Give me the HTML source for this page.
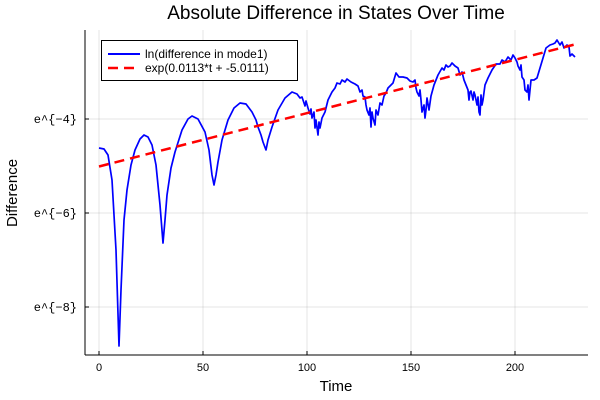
<!DOCTYPE html>
<html><head><style>body{margin:0;background:#fff}svg{display:block;font-family:"Liberation Sans",sans-serif}</style></head><body>
<svg width="600" height="400" xmlns="http://www.w3.org/2000/svg">
<rect width="600" height="400" fill="#fff"/>
<g stroke="#000" stroke-opacity="0.1" stroke-width="1">
<line x1="99" y1="30" x2="99" y2="355"/><line x1="203" y1="30" x2="203" y2="355"/><line x1="307" y1="30" x2="307" y2="355"/><line x1="411" y1="30" x2="411" y2="355"/><line x1="515" y1="30" x2="515" y2="355"/>
<line x1="85" y1="119" x2="588" y2="119"/><line x1="85" y1="213" x2="588" y2="213"/><line x1="85" y1="307" x2="588" y2="307"/>
</g>
<g stroke="#000" stroke-width="1">
<line x1="85" y1="30" x2="85" y2="355"/><line x1="85" y1="355" x2="588" y2="355"/>
<line x1="99" y1="355" x2="99" y2="351"/><line x1="203" y1="355" x2="203" y2="351"/><line x1="307" y1="355" x2="307" y2="351"/><line x1="411" y1="355" x2="411" y2="351"/><line x1="515" y1="355" x2="515" y2="351"/>
<line x1="85" y1="119" x2="89" y2="119"/><line x1="85" y1="213" x2="89" y2="213"/><line x1="85" y1="307" x2="89" y2="307"/>
</g>
<g font-size="11" fill="#000" text-anchor="middle">
<text x="99" y="371">0</text><text x="203" y="371">50</text><text x="307" y="371">100</text><text x="411" y="371">150</text><text x="515" y="371">200</text>
</g>
<g font-size="12" fill="#000" text-anchor="end" font-family="Liberation Mono, monospace">
<text x="77" y="123">e^{−4}</text><text x="77" y="217">e^{−6}</text><text x="77" y="311">e^{−8}</text>
</g>
<text x="336" y="391" font-size="15" text-anchor="middle">Time</text>
<text x="17" y="193" font-size="15" text-anchor="middle" transform="rotate(-90 17 193)">Difference</text>
<text x="336" y="19" font-size="19" text-anchor="middle">Absolute Difference in States Over Time</text>
<polyline fill="none" stroke="#0000ff" stroke-width="1.7" stroke-linejoin="round" points="99,148 104,149 108,155 112,180 116,250 119,346 121,290 124,220 127,190 131,165 135,150 140,139 144,135 148,137 152,145 156,165 160,205 163,243 165,220 167,195 171,168 175,152 182,130 188,119 192,116 198,119 205,132 209,150 212,175 214,185 216,175 218,162 222,140 228,120 234,108 240,103 246,104 252,112 256,120 258,127 261,135 263,142 266,150 268,140 272,127 278,110 285,98 292,92 297,94 300,98 302,97 303,100 305,106 306,101 308,108 310,114 311,109 312,118 314,112 315,128 316,120 318,135 319,122 320,128 322,118 325,112 328,100 332,92 335,88 337,83 340,84 342,80 345,82 347,79 351,82 355,84 358,86 360,92 362,90 363,96 365,97 366,105 367,110 369,115 370,108 371,127 372,112 373,118 375,125 376,110 378,115 380,103 382,105 384,96 386,93 388,88 390,86 393,83 396,73 399,77 403,77 407,78 410,81 413,82 415,80 416,88 417,92 419,96 420,90 421,100 422,112 424,105 425,118 426,110 427,98 429,110 431,96 434,85 438,75 442,68 444,70 446,65 448,67 450,66 452,63 455,66 458,68 460,75 462,72 464,80 466,85 468,90 469,100 470,92 471,91 473,100 474,92 475,95 477,105 478,97 479,112 480,115 481,95 482,105 483,100 485,85 488,78 492,70 496,64 500,64 502,60 505,62 508,57 511,60 513,55 515,58 517,62 518,66 520,70 521,65 522,77 524,80 525,90 527,92 528,85 529,100 531,80 534,80 537,78 540,68 543,58 546,48 550,45 553,44 555,43 557,40 560,45 562,42 564,48 565,47 567,45 569,47 570,56 572,54 575,57"/>
<line x1="99" y1="166.5" x2="575" y2="44.4" stroke="#ff0000" stroke-width="2.5" stroke-dasharray="10,6"/>
<rect x="101.5" y="40.5" width="196" height="40" fill="#fff" stroke="#000" stroke-width="1"/>
<line x1="108" y1="54" x2="140" y2="54" stroke="#0000ff" stroke-width="2"/>
<line x1="108" y1="68" x2="140" y2="68" stroke="#ff0000" stroke-width="2.5" stroke-dasharray="10,6"/>
<text x="145" y="58" font-size="12">ln(difference in mode1)</text>
<text x="145" y="72" font-size="12">exp(0.0113*t + -5.0111)</text>
</svg>
</body></html>
